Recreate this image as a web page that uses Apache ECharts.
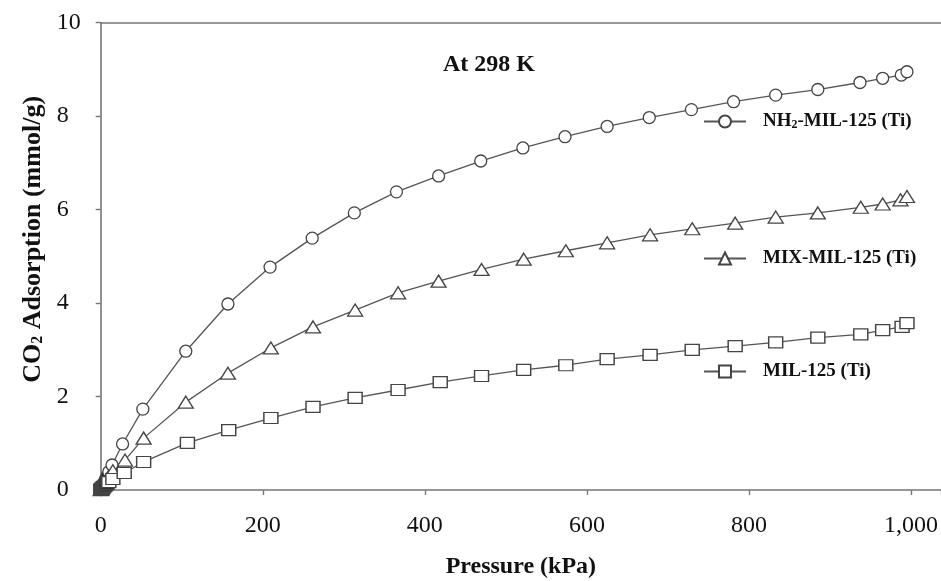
<!DOCTYPE html>
<html>
<head>
<meta charset="utf-8">
<script src="https://cdn.jsdelivr.net/npm/echarts@6/dist/echarts.min.js"></script>
<style>
html,body{margin:0;padding:0;background:#fff;}
#chart{width:941px;height:581px;}
</style>
</head>
<body>
<div id="chart"></div>
<script>
// ---- data ----
const seriesNames = ['NH2-MIL-125 (Ti)', 'MIX-MIL-125 (Ti)', 'MIL-125 (Ti)'];

const lowPressure = [0.2, 0.5, 1, 1.6, 2.4, 3.4, 4.6, 6, 7.8, 10];
const lowUptakeNH2 = [0.01, 0.02, 0.04, 0.06, 0.09, 0.13, 0.18, 0.23, 0.3, 0.39];
const lowUptakeMIX = [0.008, 0.016, 0.03, 0.05, 0.07, 0.1, 0.14, 0.18, 0.23, 0.3];
const lowUptakeMIL = [0.005, 0.01, 0.02, 0.03, 0.045, 0.06, 0.08, 0.1, 0.13, 0.17];

const pressureNH2 = [14, 27, 52, 105, 157, 209, 261, 313, 365, 417, 469, 521, 573, 625, 677, 729, 781, 833, 885, 937, 965, 988, 995];
const uptakeNH2 = [0.535, 0.985, 1.73, 2.97, 3.98, 4.77, 5.39, 5.93, 6.38, 6.72, 7.04, 7.32, 7.56, 7.78, 7.97, 8.14, 8.31, 8.45, 8.57, 8.72, 8.81, 8.88, 8.95];

const pressureMIX = [15, 30, 53, 105, 157, 210, 262, 314, 367, 417, 470, 522, 574, 625, 678, 730, 783, 833, 885, 938, 965, 987, 995];
const uptakeMIX = [0.41, 0.64, 1.11, 1.88, 2.50, 3.04, 3.49, 3.85, 4.22, 4.47, 4.72, 4.94, 5.12, 5.29, 5.46, 5.59, 5.71, 5.84, 5.93, 6.05, 6.12, 6.21, 6.28];

const pressureMIL = [15, 29, 53, 107, 158, 210, 262, 314, 367, 419, 470, 522, 574, 625, 678, 730, 783, 833, 885, 938, 965, 989, 995];
const uptakeMIL = [0.235, 0.364, 0.60, 1.01, 1.28, 1.54, 1.78, 1.97, 2.14, 2.31, 2.44, 2.57, 2.67, 2.80, 2.89, 3.00, 3.08, 3.16, 3.26, 3.33, 3.42, 3.49, 3.57];

const xTicks = [0, 200, 400, 600, 800, 1000];
const yTicks = [0, 2, 4, 6, 8, 10];

// ---- build ----
const FONT = '"Liberation Serif", "Times New Roman", serif';
const LINE = '#555';

function build(lowP, lowQ, p, q) {
  const out = [];
  lowP.forEach((x, i) => {
    out.push({ value: [x, lowQ[i]], itemStyle: x < 9 ? { color: '#222' } : undefined });
  });
  p.forEach((x, i) => out.push([x, q[i]]));
  return out;
}

const dataNH2 = build(lowPressure, lowUptakeNH2, pressureNH2, uptakeNH2);
const dataMIX = build(lowPressure, lowUptakeMIX, pressureMIX, uptakeMIX);
const dataMIL = build(lowPressure, lowUptakeMIL, pressureMIL, uptakeMIL);

function legendFmt(name) {
  if (name.indexOf('NH2') === 0) return '{a|NH}{s|2}{a|' + name.slice(3) + '}';
  return '{a|' + name + '}';
}
const legendText = {
  padding: [0, 0, 0, 12],
  rich: {
    a: { fontFamily: FONT, fontSize: 19, fontWeight: 'bold', color: '#111' },
    s: { fontFamily: FONT, fontSize: 12, fontWeight: 'bold', color: '#111', verticalAlign: 'bottom', lineHeight: 14 }
  }
};
function mkLegend(name, top) {
  return {
    data: [name], left: 703, top: top, orient: 'horizontal', padding: 0,
    itemWidth: 42, itemHeight: 15, formatter: legendFmt, textStyle: legendText,
    selectedMode: false
  };
}

function mkSeries(name, data, symbol, size) {
  return {
    name: name, type: 'line', data: data, symbol: symbol, symbolSize: size,
    clip: false, animation: false,
    lineStyle: { color: LINE, width: 1.3 },
    itemStyle: { color: '#fff', borderColor: '#444', borderWidth: 1.3 },
    emphasis: { disabled: true }
  };
}

const chart = echarts.init(document.getElementById('chart'));
chart.setOption({
  backgroundColor: '#fff',
  animation: false,
  title: {
    text: 'At 298 K', left: 443, top: 53, padding: 0,
    textStyle: { fontFamily: FONT, fontSize: 24, fontWeight: 'bold', color: '#111' }
  },
  legend: [
    mkLegend(seriesNames[0], 112),
    mkLegend(seriesNames[1], 249),
    mkLegend(seriesNames[2], 362)
  ],
  grid: { left: 100.7, right: 0, top: 22.7, bottom: 91, containLabel: false, outerBoundsMode: 'none' },
  xAxis: [{
    type: 'value', min: 0, max: 1037, interval: 200,
    name: 'Pressure (kPa)', nameLocation: 'middle', nameGap: 65,
    nameTextStyle: { fontFamily: FONT, fontSize: 24, fontWeight: 'bold', color: '#111' },
    axisLine: { lineStyle: { color: '#777', width: 1.6 } },
    axisTick: { show: true, length: 5, inside: false, lineStyle: { color: '#777', width: 1.4 } },
    axisLabel: {
      margin: 24, fontFamily: FONT, fontSize: 24, color: '#111',
      formatter: v => (xTicks.indexOf(v) >= 0 ? v.toLocaleString('en-US') : '')
    },
    splitLine: { show: false }
  }, {
    type: 'value', position: 'top', min: 0, max: 1037,
    axisLine: { show: true, lineStyle: { color: '#777', width: 1.6 } },
    axisTick: { show: false }, axisLabel: { show: false }, splitLine: { show: false }
  }],
  yAxis: {
    type: 'value', min: 0, max: 10, interval: 2,
    name: '{a|CO}{s|2}{a| Adsorption (mmol/g)}', nameLocation: 'middle', nameGap: 50, nameRotate: 90,
    nameTextStyle: {
      padding: [0, 0, 0, 34],
      rich: {
        a: { fontFamily: FONT, fontSize: 26, fontWeight: 'bold', color: '#111' },
        s: { fontFamily: FONT, fontSize: 16, fontWeight: 'bold', color: '#111', verticalAlign: 'bottom', lineHeight: 16 }
      }
    },
    axisLine: { show: true, lineStyle: { color: '#777', width: 1.6 } },
    axisTick: { show: true, length: 5, inside: false, lineStyle: { color: '#777', width: 1.4 } },
    axisLabel: {
      margin: 44, align: 'left', fontFamily: FONT, fontSize: 24, color: '#111',
      formatter: v => (yTicks.indexOf(v) >= 0 ? String(v) : '')
    },
    splitLine: { show: false }
  },
  series: [
    mkSeries(seriesNames[0], dataNH2, 'circle', 12),
    mkSeries(seriesNames[1], dataMIX, 'triangle', [15, 12]),
    mkSeries(seriesNames[2], dataMIL, 'rect', [14, 11])
  ]
});
</script>
</body>
</html>
